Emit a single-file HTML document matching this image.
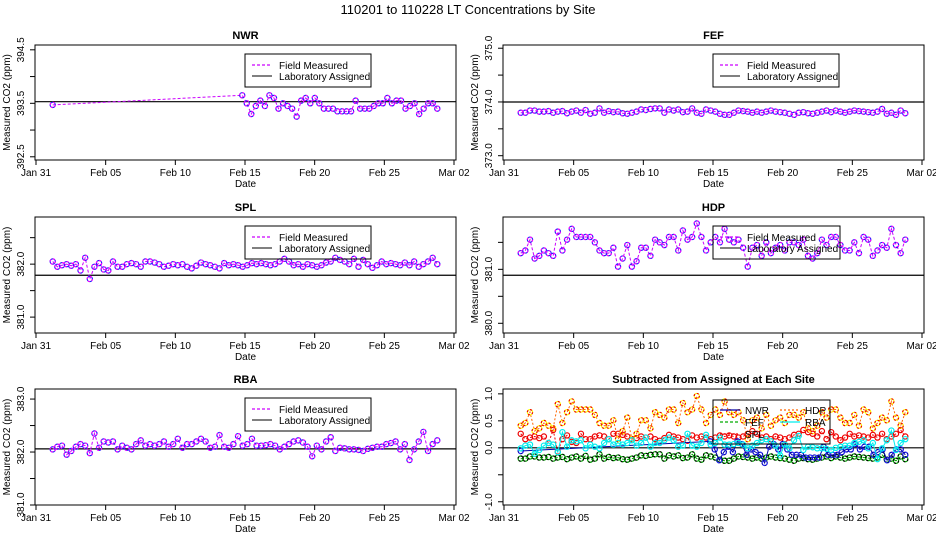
<!DOCTYPE html>
<html><head><meta charset="utf-8">
<style>
html,body{margin:0;padding:0;background:#fff;}
svg{display:block;font-family:"Liberation Sans",sans-serif;}
</style></head>
<body>
<svg id="chart" width="936" height="540" viewBox="0 0 936 540" xmlns="http://www.w3.org/2000/svg">
<text x="468" y="14" font-size="13" text-anchor="middle">110201  to  110228 LT Concentrations by Site</text>
</svg>
<script>
const xTickDays = [0, 5, 10, 15, 20, 25, 30];
const xTickLabels = ["Jan 31", "Feb 05", "Feb 10", "Feb 15", "Feb 20", "Feb 25", "Mar 02"];

const nwrFirst = [1.2, 393.47];
const nwrVals = [393.65,393.5,393.3,393.45,393.55,393.45,393.65,393.6,393.4,393.5,393.45,393.4,393.25,393.55,393.6,393.5,393.6,393.5,393.4,393.4,393.4,393.35,393.35,393.35,393.35,393.55,393.4,393.4,393.4,393.45,393.5,393.5,393.6,393.5,393.55,393.55,393.4,393.45,393.5,393.3,393.4,393.5,393.5,393.4];
const fefVals = [373.80,373.80,373.84,373.84,373.82,373.82,373.83,373.80,373.82,373.83,373.79,373.82,373.84,373.80,373.85,373.78,373.80,373.88,373.80,373.83,373.81,373.82,373.79,373.78,373.80,373.82,373.86,373.85,373.87,373.88,373.88,373.80,373.86,373.84,373.86,373.81,373.82,373.88,373.80,373.78,373.86,373.84,373.82,373.78,373.76,373.76,373.80,373.84,373.83,373.82,373.80,373.82,373.80,373.82,373.84,373.82,373.81,373.80,373.78,373.76,373.80,373.81,373.79,373.78,373.80,373.82,373.84,373.81,373.84,373.82,373.80,373.82,373.84,373.83,373.82,373.81,373.80,373.82,373.87,373.78,373.80,373.76,373.84,373.79];
const splVals = [382.05,381.95,381.98,382.0,381.97,382.0,381.88,382.12,381.72,381.95,382.02,381.9,381.88,382.05,381.95,381.95,382.0,382.02,382.0,381.95,382.05,382.05,382.03,382.0,381.95,381.97,382.0,381.98,382.0,381.95,381.92,381.97,382.03,382.0,381.98,381.95,381.92,382.02,381.98,382.0,381.98,381.95,381.98,382.02,382.0,382.02,382.0,381.98,382.0,382.05,382.1,382.05,381.98,382.0,381.95,382.0,381.98,381.95,381.98,382.03,382.05,382.12,382.08,382.05,382.0,382.1,381.95,382.08,382.0,381.93,381.98,382.05,382.0,382.02,382.0,381.98,382.03,381.98,382.05,381.95,382.0,382.05,382.12,382.0];
const hdpVals = [381.3,381.35,381.55,381.2,381.25,381.35,381.3,381.25,381.7,381.35,381.55,381.75,381.6,381.6,381.6,381.6,381.5,381.35,381.3,381.3,381.4,381.05,381.2,381.45,381.05,381.15,381.4,381.4,381.25,381.55,381.5,381.45,381.6,381.6,381.35,381.72,381.55,381.6,381.85,381.6,381.35,381.5,381.6,381.5,381.75,381.55,381.5,381.55,381.4,381.05,381.4,381.45,381.25,381.5,381.3,381.4,381.45,381.35,381.5,381.5,381.45,381.55,381.25,381.2,381.3,381.55,381.45,381.6,381.6,381.45,381.35,381.35,381.5,381.3,381.6,381.55,381.25,381.35,381.45,381.4,381.75,381.45,381.3,381.55];
const rbaVals = [382.05,382.1,382.12,381.95,382.02,382.1,382.15,382.12,381.98,382.35,382.08,382.2,382.18,382.2,382.05,382.12,382.08,382.05,382.15,382.22,382.12,382.15,382.12,382.15,382.2,382.1,382.15,382.25,382.08,382.15,382.15,382.2,382.25,382.2,382.08,382.1,382.32,382.1,382.08,382.15,382.3,382.12,382.15,382.25,382.12,382.12,382.13,382.15,382.12,382.05,382.1,382.15,382.2,382.22,382.18,382.1,381.92,382.12,382.05,382.2,382.28,382.02,382.08,382.07,382.05,382.05,382.04,382.02,382.06,382.08,382.1,382.1,382.15,382.17,382.2,382.05,382.15,381.85,382.05,382.2,382.38,382.02,382.15,382.22];
const assigned = {NWR: 393.53, FEF: 374.0, SPL: 381.79, HDP: 380.89, RBA: 382.06};

const NS = "http://www.w3.org/2000/svg";
const svg = document.getElementById('chart');
function mk(tag, attrs, parent) {
  const e = document.createElementNS(NS, tag);
  for (const k in attrs) e.setAttribute(k, attrs[k]);
  (parent || svg).appendChild(e);
  return e;
}
function days(n, s, e) { const a = []; for (let i = 0; i < n; i++) a.push(s + i * (e - s) / (n - 1)); return a; }

const cols = [{bx0: 35, bx1: 456, ox: 36}, {bx0: 503, bx1: 924, ox: 504}];
const rows = [{t: 45, b: 160}, {t: 217, b: 333}, {t: 389, b: 505}];
const pxPerDay = 418 / 30;

function panel(name, col, row, dom, ticks, labels, titleText) {
  const g = mk('g', {});
  
  
  const c = cols[col], r = rows[row];
  const xs = d => c.ox + d * pxPerDay;
  const ys = v => r.b - (v - dom[0]) / (dom[1] - dom[0]) * (r.b - r.t);
  const box = mk('rect', {x: c.bx0, y: r.t, width: c.bx1 - c.bx0, height: r.b - r.t, fill: 'none', stroke: '#000', 'stroke-width': 1}, g);
  
  
  const tt = mk('text', {x: (c.bx0 + c.bx1) / 2, y: r.t - 6, 'font-size': 11, 'font-weight': 'bold', 'text-anchor': 'middle'}, g);
  tt.textContent = titleText;
  
  
  xTickDays.forEach((d, i) => {
    mk('line', {x1: xs(d), x2: xs(d), y1: r.b, y2: r.b + 5, stroke: '#000'}, g);
    const t = mk('text', {x: xs(d), y: r.b + 16, 'font-size': 10, 'text-anchor': 'middle'}, g);
    t.textContent = xTickLabels[i];
    
    
  });
  const xt = mk('text', {x: (c.bx0 + c.bx1) / 2, y: r.b + 27, 'font-size': 10, 'text-anchor': 'middle'}, g);
  xt.textContent = 'Date';
  
  
  ticks.forEach(v => {
    mk('line', {x1: c.bx0 - 5, x2: c.bx0, y1: ys(v), y2: ys(v), stroke: '#000'}, g);
  });
  labels.forEach(v => {
    const t = mk('text', {x: 0, y: 0, 'font-size': 10, 'text-anchor': 'middle', transform: `translate(${c.bx0 - 11},${ys(v)}) rotate(-90)`}, g);
    t.textContent = v.toFixed(1);
    
    
  });
  const yt = mk('text', {x: 0, y: 0, 'font-size': 10, 'text-anchor': 'middle', transform: `translate(${c.bx0 - 25},${(r.t + r.b) / 2}) rotate(-90)`}, g);
  yt.textContent = 'Measured CO2 (ppm)';
  
  
  return {g, xs, ys, c, r};
}

function series(p, ds, vs, lineCol, dash, ptCol, ptCol2, name, showLine) {
  const pts = ds.map((d, i) => [p.xs(d), p.ys(vs[i])]);
  if (showLine !== false) {
    const l = mk('polyline', {points: pts.map(q => q.join(',')).join(' '), fill: 'none', stroke: lineCol, 'stroke-width': 1, 'stroke-dasharray': dash}, p.g);
    
    
  }
  pts.forEach(q => {
    const c1 = mk('circle', {cx: q[0], cy: q[1], r: 2.6, fill: 'none', stroke: ptCol, 'stroke-width': 1.2}, p.g);
    
    
    if (ptCol2) mk('circle', {cx: q[0], cy: q[1], r: 2.6, fill: 'none', stroke: ptCol2, 'stroke-width': 1.2, 'stroke-dasharray': '2,2'}, p.g);
  });
}

function legend(p, x, y, w, h) {
  const lg = mk('g', {}, p.g);
  
  
  mk('rect', {x, y, width: w, height: h, fill: 'none', stroke: '#000'}, lg);
  mk('line', {x1: x + 7, x2: x + 27, y1: y + 11, y2: y + 11, stroke: '#c0f', 'stroke-dasharray': '3,2', 'stroke-width': 1.2}, lg);
  mk('line', {x1: x + 7, x2: x + 27, y1: y + 22, y2: y + 22, stroke: '#000'}, lg);
  const a = mk('text', {x: x + 34, y: y + 15, 'font-size': 10}, lg); a.textContent = 'Field Measured';
  
  
  const b = mk('text', {x: x + 34, y: y + 26, 'font-size': 10}, lg); b.textContent = 'Laboratory Assigned';
  
  
}

function sitePanel(name, col, row, dom, ticks, labels, ds, vs, asg) {
  const p = panel(name, col, row, dom, ticks, labels, name);
  const al = mk('line', {x1: p.c.bx0, x2: p.c.bx1, y1: p.ys(asg), y2: p.ys(asg), stroke: '#000', 'stroke-width': 1.2}, p.g);
  
  
  series(p, ds, vs, '#c0f', '3,2', '#22f', '#f0f', name);
  const lx = p.c.bx0 + 210, ly = p.r.t + 9;
  legend(p, lx, ly, col === 1 && row === 1 ? 127 : 126, 33);
  return p;
}

const nwrDays = [nwrFirst[0]].concat(days(nwrVals.length, 14.8, 28.8));
const nwrAll = [nwrFirst[1]].concat(nwrVals);
const stdDays = days(84, 1.2, 28.8);

sitePanel('NWR', 0, 0, [392.44, 394.59], [392.5, 393.0, 393.5, 394.0, 394.5], [392.5, 393.5, 394.5], nwrDays, nwrAll, assigned.NWR);
sitePanel('FEF', 1, 0, [372.92, 375.06], [373.0, 373.5, 374.0, 374.5, 375.0], [373.0, 374.0, 375.0], stdDays, fefVals, assigned.FEF);
sitePanel('SPL', 0, 1, [380.70, 382.89], [381.0, 381.5, 382.0, 382.5], [381.0, 382.0], stdDays, splVals, assigned.SPL);
sitePanel('HDP', 1, 1, [379.82, 381.97], [380.0, 380.5, 381.0, 381.5], [380.0, 381.0], stdDays, hdpVals, assigned.HDP);
sitePanel('RBA', 0, 2, [381.0, 383.19], [381.0, 381.5, 382.0, 382.5, 383.0], [381.0, 382.0, 383.0], stdDays, rbaVals, assigned.RBA);

// subtracted panel
const sp = panel('subtracted', 1, 2, [-1.06, 1.09], [-1.0, -0.5, 0.0, 0.5, 1.0], [-1.0, 0.0, 0.5, 1.0], 'Subtracted from Assigned at Each Site');
const zl = mk('line', {x1: sp.c.bx0, x2: sp.c.bx1, y1: sp.ys(0), y2: sp.ys(0), stroke: '#000', 'stroke-width': 1.2}, sp.g);


const diff = (vs, a) => vs.map(v => v - a);
series(sp, stdDays, diff(fefVals, assigned.FEF), '#0a0', '3,2', '#0a0', '#000', 'FEF-diff');
series(sp, stdDays, diff(splVals, assigned.SPL), '#e00', '2,2', '#e00', null, 'SPL-diff');
series(sp, stdDays, diff(hdpVals, assigned.HDP), '#f60', '2,2', '#ff0', '#e00', 'HDP-diff');
series(sp, nwrDays, diff(nwrAll, assigned.NWR), '#00a', '', '#00a', '#33f', 'NWR-diff');
series(sp, stdDays, diff(rbaVals, assigned.RBA), '#0ee', '', '#0ee', null, 'RBA-diff');
// legend
const lg2 = mk('g', {}, sp.g);


mk('rect', {x: 713, y: 400, width: 117, height: 44, fill: 'none', stroke: '#000'}, lg2);
const legItems = [["NWR", '#00a', '', 720, 413], ["FEF", '#0a0', '3,2', 720, 425], ["SPL", '#e00', '2,2', 720, 437], ["HDP", '#f60', '2,2', 780, 413], ["RBA", '#0ee', '', 780, 425]];
legItems.forEach(it => {
  mk('line', {x1: it[3], x2: it[3] + 20, y1: it[4] - 3, y2: it[4] - 3, stroke: it[1], 'stroke-dasharray': it[2], 'stroke-width': 1.2}, lg2);
  const t = mk('text', {x: it[3] + 25, y: it[4] + 1, 'font-size': 10}, lg2);
  t.textContent = it[0];
  
  
});
</script>
</body></html>
